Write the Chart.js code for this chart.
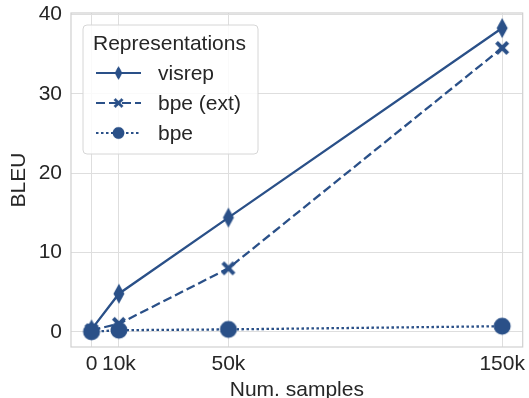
<!DOCTYPE html>
<html>
<head>
<meta charset="utf-8">
<script src="https://cdn.jsdelivr.net/npm/chart.js@4.4.1/dist/chart.umd.min.js"></script>
<style>
  html, body { margin: 0; padding: 0; background: #fff; }
  #wrap { width: 529px; height: 398px; }
</style>
</head>
<body>
<div id="wrap"><canvas id="bleuChart" width="529" height="398"></canvas></div>
<script>
// data
const samples = [0, 10000, 50000, 150000];
const tickLabels = ['0', '10k', '50k', '150k'];
const visrep = [0.3, 4.8, 14.4, 38.3];
const bpeExt = [0.2, 1.0, 8.0, 35.8];
const bpe = [0.0, 0.2, 0.3, 0.7];
const yTicks = [0, 10, 20, 30, 40];

const BLUE = '#2a5088';
const TEXT = '#262626';
const FONT = "'Liberation Sans', Arial, sans-serif";
const FS = 21;

// marker images (thin diamond, filled X, circle)
function makeMarker(kind) {
  const c = document.createElement('canvas');
  c.width = 24; c.height = 24;
  const g = c.getContext('2d');
  g.fillStyle = BLUE;
  g.beginPath();
  if (kind === 'diamond') {
    g.moveTo(12, 2); g.lineTo(17.5, 12); g.lineTo(12, 22); g.lineTo(6.5, 12);
  } else if (kind === 'x') {
    const a = 7, w = 2.8;
    g.moveTo(12 - a, 12 - a + w); g.lineTo(12 - a + w, 12 - a); g.lineTo(12, 12 - w);
    g.lineTo(12 + a - w, 12 - a); g.lineTo(12 + a, 12 - a + w); g.lineTo(12 + w, 12);
    g.lineTo(12 + a, 12 + a - w); g.lineTo(12 + a - w, 12 + a); g.lineTo(12, 12 + w);
    g.lineTo(12 - a + w, 12 + a); g.lineTo(12 - a, 12 + a - w); g.lineTo(12 - w, 12);
  } else {
    g.arc(12, 12, 8.5, 0, Math.PI * 2);
  }
  g.closePath();
  g.fill();
  return c;
}

const series = [
  { label: 'visrep', data: visrep, dash: [], marker: makeMarker('diamond'), order: 2 },
  { label: 'bpe (ext)', data: bpeExt, dash: [9, 4], marker: makeMarker('x'), order: 1 },
  { label: 'bpe', data: bpe, dash: [2.5, 2.5], marker: makeMarker('circle'), order: 0 }
];

// seaborn-ish frame + legend box inside the axes
const framePlugin = {
  id: 'frame',
  beforeDatasetsDraw(chart) {
    const { ctx, chartArea: a } = chart;
    ctx.save();
    ctx.strokeStyle = '#d0d0d0';
    ctx.lineWidth = 1.2;
    ctx.strokeRect(a.left, a.top, a.right - a.left, a.bottom - a.top);
    ctx.restore();
  },
  afterDraw(chart) {
    const ctx = chart.ctx;
    const x = 83, y = 25, w = 175, h = 129, r = 4;
    ctx.save();
    ctx.beginPath();
    ctx.roundRect(x, y, w, h, r);
    ctx.fillStyle = 'rgba(255,255,255,0.85)';
    ctx.fill();
    ctx.strokeStyle = '#d6d6d6';
    ctx.lineWidth = 1;
    ctx.stroke();
    ctx.fillStyle = TEXT;
    ctx.textBaseline = 'middle';
    ctx.font = FS + 'px ' + FONT;
    ctx.fillText('Representations', 93, 44);
    series.forEach((s, i) => {
      const cy = 73 + i * 30;
      ctx.strokeStyle = BLUE;
      ctx.lineWidth = 2.2;
      ctx.setLineDash(s.dash);
      ctx.beginPath();
      ctx.moveTo(96, cy);
      ctx.lineTo(141, cy);
      ctx.stroke();
      ctx.setLineDash([]);
      ctx.save();
      ctx.translate(118.5, cy);
      ctx.scale(0.7, 0.7);
      ctx.drawImage(s.marker, -12, -12);
      ctx.restore();
      ctx.fillStyle = TEXT;
      ctx.fillText(s.label, 158, cy + 1);
    });
    ctx.restore();
  }
};

new Chart(document.getElementById('bleuChart'), {
  type: 'line',
  data: {
    datasets: series.map(s => ({
      label: s.label,
      data: samples.map((v, i) => ({ x: v, y: s.data[i] })),
      borderColor: BLUE,
      backgroundColor: BLUE,
      borderWidth: 2.3,
      borderDash: s.dash,
      pointStyle: s.marker,
      order: s.order,
      tension: 0
    }))
  },
  options: {
    responsive: false,
    animation: false,
    layout: { padding: { top: 13, right: 4, left: 0, bottom: 0 } },
    plugins: { legend: { display: false }, tooltip: { enabled: false } },
    scales: {
      x: {
        type: 'linear',
        min: -7500,
        max: 157500,
        afterBuildTicks: axis => { axis.ticks = samples.map(v => ({ value: v })); },
        afterFit: axis => { axis.height = 51; axis.paddingLeft = 0; axis.paddingRight = 0; },
        ticks: {
          autoSkip: false,
          maxRotation: 0,
          color: TEXT,
          font: { family: FONT, size: FS },
          padding: 5,
          callback: (v) => tickLabels[samples.indexOf(v)]
        },
        grid: { color: '#dedede', lineWidth: 1, drawTicks: false },
        border: { display: false },
        title: {
          display: true,
          text: 'Num. samples',
          color: TEXT,
          font: { family: FONT, size: FS },
          padding: { top: 0, bottom: -5 }
        }
      },
      y: {
        min: -1.92,
        max: 40.2,
        afterBuildTicks: axis => { axis.ticks = yTicks.map(v => ({ value: v })); },
        afterFit: axis => { axis.width = 71; axis.paddingTop = 0; axis.paddingBottom = 0; },
        ticks: {
          color: TEXT,
          font: { family: FONT, size: FS },
          padding: 9
        },
        grid: { color: '#dedede', lineWidth: 1, drawTicks: false },
        border: { display: false },
        title: {
          display: true,
          text: 'BLEU',
          color: TEXT,
          font: { family: FONT, size: FS },
          padding: { top: 7, bottom: 0 }
        }
      }
    }
  },
  plugins: [framePlugin]
});
</script>
</body>
</html>
